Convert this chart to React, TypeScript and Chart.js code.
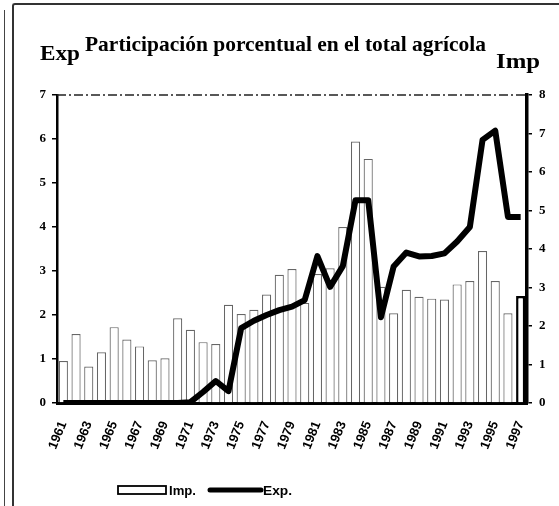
import React, { useEffect, useRef } from "react";
import { Chart, registerables } from "chart.js";

Chart.register(...registerables);

const years = [
  "1961", "1962", "1963", "1964", "1965", "1966", "1967", "1968", "1969",
  "1970", "1971", "1972", "1973", "1974", "1975", "1976", "1977", "1978", "1979",
  "1980", "1981", "1982", "1983", "1984", "1985", "1986", "1987", "1988", "1989",
  "1990", "1991", "1992", "1993", "1994", "1995", "1996", "1997",
];

// Imp. (bars, right axis 0-8)
const impValues = [
  1.09, 1.79, 0.95, 1.32, 1.97, 1.65, 1.47, 1.11, 1.16,
  2.2, 1.9, 1.58, 1.53, 2.55, 2.31, 2.42, 2.82, 3.33, 3.48,
  2.6, 3.35, 3.5, 4.57, 6.79, 6.34, 3.02, 2.33, 2.94, 2.76,
  2.71, 2.69, 3.08, 3.17, 3.95, 3.17, 2.33, 2.78,
];

// Exp. (line, left axis 0-7)
const expValues = [
  0, 0, 0, 0, 0, 0, 0, 0, 0,
  0, 0.02, 0.25, 0.5, 0.27, 1.7, 1.87, 2.0, 2.11, 2.19,
  2.34, 3.34, 2.64, 3.11, 4.61, 4.61, 1.95, 3.1, 3.42, 3.33,
  3.34, 3.4, 3.67, 4.0, 5.98, 6.19, 4.23, 4.23,
];

const expAxisMax = 7;
const impAxisMax = 8;

const titleText = "Participación porcentual en el total agrícola";
const leftAxisName = "Exp";
const rightAxisName = "Imp";
const impLabel = "Imp.";
const expLabel = "Exp.";

function drawFitted(ctx: CanvasRenderingContext2D, text: string, x: number, baseline: number, width: number, font: string) {
  ctx.font = font;
  const w = ctx.measureText(text).width;
  ctx.save();
  ctx.translate(x, baseline);
  ctx.scale(width / w, 1);
  ctx.textAlign = "left";
  ctx.textBaseline = "alphabetic";
  ctx.fillText(text, 0, 0);
  ctx.restore();
}

const decorPlugin = {
  id: "decor",
  afterDraw(chart: any) {
    const { ctx, chartArea: a } = chart;
    ctx.save();
    // dashed top frame of plot
    ctx.strokeStyle = "#222";
    ctx.lineWidth = 1.5;
    ctx.setLineDash([9, 3, 2, 3]);
    ctx.beginPath();
    ctx.moveTo(a.left, a.top);
    ctx.lineTo(a.right, a.top);
    ctx.stroke();
    ctx.setLineDash([]);

    ctx.fillStyle = "#000";
    const serif = 'bold 22px "Liberation Serif", "DejaVu Serif", serif';
    drawFitted(ctx, titleText, 85, 51, 401, serif);
    drawFitted(ctx, leftAxisName, 40, 60, 40, serif);
    drawFitted(ctx, rightAxisName, 496, 68, 44, serif);

    // legend
    const ly = 490;
    ctx.strokeStyle = "#000";
    ctx.lineWidth = 1.8;
    ctx.fillStyle = "#fff";
    ctx.fillRect(118, ly - 4, 48, 8);
    ctx.strokeRect(118, ly - 4, 48, 8);
    ctx.fillStyle = "#000";
    const sans = 'bold 12px "Liberation Sans", Arial, sans-serif';
    drawFitted(ctx, impLabel, 169, ly + 5, 27, sans);
    ctx.lineWidth = 5;
    ctx.lineCap = "round";
    ctx.beginPath();
    ctx.moveTo(210, ly);
    ctx.lineTo(261, ly);
    ctx.stroke();
    drawFitted(ctx, expLabel, 263, ly + 5, 29, sans);
    ctx.restore();
  },
};

export default function App() {
  const canvasRef = useRef<HTMLCanvasElement | null>(null);

  useEffect(() => {
    if (!canvasRef.current) return;
    const last = years.length - 1;
    const chart = new Chart(canvasRef.current, {
      type: "bar",
      data: {
        labels: years,
        datasets: [
          {
            type: "line",
            label: expLabel,
            data: expValues,
            yAxisID: "y",
            borderColor: "#000",
            backgroundColor: "#000",
            borderWidth: 6,
            pointRadius: 0,
            tension: 0,
            borderJoinStyle: "round",
            order: 1,
          } as any,
          {
            type: "bar",
            label: impLabel,
            data: impValues,
            yAxisID: "y1",
            backgroundColor: "#fff",
            borderColor: (c: any) => (c.dataIndex === last ? "#000" : "#666"),
            borderWidth: (c: any) => (c.dataIndex === last ? 2.5 : 1.2),
            barPercentage: 0.72,
            categoryPercentage: 1,
            order: 2,
          } as any,
        ],
      },
      options: {
        responsive: false,
        animation: false,
        layout: { padding: { top: 95, left: 0, right: 0, bottom: 0 } },
        plugins: {
          legend: { display: false },
          tooltip: { enabled: false },
          title: { display: false },
        },
        scales: {
          x: {
            offset: true,
            grid: { display: false },
            border: { display: true, color: "#000", width: 3 },
            ticks: {
              autoSkip: false,
              minRotation: 68,
              maxRotation: 68,
              padding: 8,
              color: "#000",
              font: { family: '"Liberation Sans", Arial, sans-serif', weight: "bold", size: 13 },
              callback: (_v: any, i: number) => (i % 2 === 0 ? years[i] : ""),
            },
            afterFit: (s: any) => {
              s.height = 103;
            },
          },
          y: {
            position: "left",
            min: 0,
            max: expAxisMax,
            ticks: {
              stepSize: 1,
              color: "#000",
              padding: 6,
              font: { family: '"Liberation Serif", serif', weight: "bold", size: 13 },
            },
            grid: { drawOnChartArea: false, color: "#000", tickLength: 5, lineWidth: 1.5 },
            border: { display: true, color: "#000", width: 2.5 },
            afterFit: (s: any) => {
              s.width = 57;
            },
          },
          y1: {
            position: "right",
            min: 0,
            max: impAxisMax,
            ticks: {
              stepSize: 1,
              color: "#000",
              padding: 7,
              font: { family: '"Liberation Serif", serif', weight: "bold", size: 13 },
            },
            grid: { drawOnChartArea: false, color: "#000", tickLength: 5, lineWidth: 1.5 },
            border: { display: true, color: "#000", width: 3.5 },
            afterFit: (s: any) => {
              s.width = 32;
            },
          },
        },
      } as any,
      plugins: [decorPlugin],
    });
    return () => chart.destroy();
  }, []);

  return (
    <div style={{ position: "fixed", left: 0, top: 0, width: 559, height: 506, background: "#fff", overflow: "hidden" }}>
      <div style={{ position: "absolute", left: 4, top: 10, width: 0, height: 496, borderLeft: "1.5px solid #444" }} />
      <div
        style={{
          position: "absolute",
          left: 12,
          top: 3,
          width: 560,
          height: 510,
          borderLeft: "2px solid #333",
          borderTop: "2px solid #333",
          borderTopLeftRadius: 3,
        }}
      />
      <canvas ref={canvasRef} width={559} height={506} style={{ position: "absolute", left: 0, top: 0, display: "block" }} />
    </div>
  );
}
